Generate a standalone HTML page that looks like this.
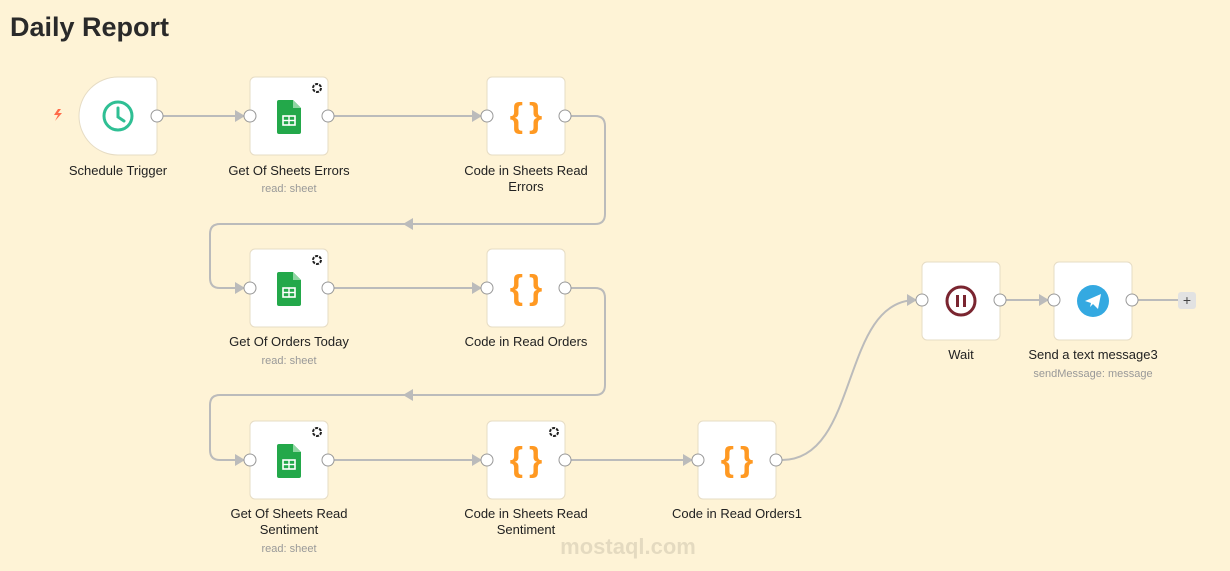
<!DOCTYPE html>
<html><head><meta charset="utf-8"><style>
html,body{margin:0;padding:0;background:#fef3d6;}
svg{display:block;font-family:"Liberation Sans",sans-serif;}
</style></head><body>
<svg width="1230" height="571" viewBox="0 0 1230 571" xmlns="http://www.w3.org/2000/svg">
<rect width="1230" height="571" fill="#fef3d6"/>
<text x="10" y="36" font-size="27" font-weight="bold" fill="#2a2a2a">Daily Report</text>
<defs>
<g id="sheet"><path d="M-12,-16 h16 l8,8 v24 a2,2 0 0 1 -2,2 h-20 a2,2 0 0 1 -2,-2 v-30 a2,2 0 0 1 2,-2z" fill="#23a84a"/><path d="M4,-16 l8,8 h-8z" fill="#8fd6a2"/><rect x="-6" y="0" width="12" height="9" fill="none" stroke="#fff" stroke-width="1.6"/><line x1="-6" y1="4.5" x2="6" y2="4.5" stroke="#fff" stroke-width="1.4"/><line x1="0" y1="0" x2="0" y2="9" stroke="#fff" stroke-width="1.4"/></g>
<g id="code"><text x="3" y="11" text-anchor="middle" font-size="34" font-weight="bold" fill="#ff9922" font-family="Liberation Sans,sans-serif" letter-spacing="6">{}</text></g>
<g id="spin"><circle r="4" fill="none" stroke="#222" stroke-width="2" stroke-dasharray="3 1.2"/></g>
</defs>
<g fill="none" stroke="#bbb" stroke-width="2">
<path d="M163,116 H243"/>
<path d="M334,116 H480"/>
<path d="M571,116 H595 Q605,116 605,126 V214 Q605,224 595,224 H220 Q210,224 210,234 V278 Q210,288 220,288 H243"/>
<path d="M334,288 H480"/>
<path d="M571,288 H595 Q605,288 605,298 V385 Q605,395 595,395 H220 Q210,395 210,405 V450 Q210,460 220,460 H243"/>
<path d="M334,460 H480"/>
<path d="M571,460 H691"/>
<path d="M782,460 C860,460 840,300 916,300"/>
<path d="M1006,300 H1048"/>
<path d="M1138,300 H1178"/>
</g>
<g fill="#bbb">
<path d="M245,116 l-10,-6 v12z"/><path d="M482,116 l-10,-6 v12z"/>
<path d="M403,224 l10,-6 v12z"/><path d="M245,288 l-10,-6 v12z"/><path d="M482,288 l-10,-6 v12z"/>
<path d="M403,395 l10,-6 v12z"/><path d="M245,460 l-10,-6 v12z"/><path d="M482,460 l-10,-6 v12z"/><path d="M693,460 l-10,-6 v12z"/>
<path d="M917,300 l-10,-6 v12z"/><path d="M1049,300 l-10,-6 v12z"/>
</g>
<rect x="1178" y="292" width="18" height="17" rx="3" fill="#e2e2e2"/>
<text x="1187" y="305" text-anchor="middle" font-size="14" fill="#444">+</text>
<path d="M58,109 l-4,6 h4 l-3,6 l7,-8 h-4 l3,-4z" fill="#ff6b4a"/>
<g stroke="#e6dcc4" stroke-width="1" fill="#fff">
<path d="M118,77 H152 a5,5 0 0 1 5,5 V150 a5,5 0 0 1 -5,5 H118 a39,39 0 0 1 -39,-39 a39,39 0 0 1 39,-39z"/>
<rect x="250" y="77" width="78" height="78" rx="5"/>
<rect x="487" y="77" width="78" height="78" rx="5"/>
<rect x="250" y="249" width="78" height="78" rx="5"/>
<rect x="487" y="249" width="78" height="78" rx="5"/>
<rect x="250" y="421" width="78" height="78" rx="5"/>
<rect x="487" y="421" width="78" height="78" rx="5"/>
<rect x="698" y="421" width="78" height="78" rx="5"/>
<rect x="922" y="262" width="78" height="78" rx="5"/>
<rect x="1054" y="262" width="78" height="78" rx="5"/>
</g>
<g fill="#fff" stroke="#999" stroke-width="1">
<circle cx="157" cy="116" r="6"/>
<circle cx="250" cy="116" r="6"/><circle cx="328" cy="116" r="6"/>
<circle cx="487" cy="116" r="6"/><circle cx="565" cy="116" r="6"/>
<circle cx="250" cy="288" r="6"/><circle cx="328" cy="288" r="6"/>
<circle cx="487" cy="288" r="6"/><circle cx="565" cy="288" r="6"/>
<circle cx="250" cy="460" r="6"/><circle cx="328" cy="460" r="6"/>
<circle cx="487" cy="460" r="6"/><circle cx="565" cy="460" r="6"/>
<circle cx="698" cy="460" r="6"/><circle cx="776" cy="460" r="6"/>
<circle cx="922" cy="300" r="6"/><circle cx="1000" cy="300" r="6"/>
<circle cx="1054" cy="300" r="6"/><circle cx="1132" cy="300" r="6"/>
</g>
<g transform="translate(118,116)"><circle r="14" fill="none" stroke="#2fbf94" stroke-width="3"/><path d="M0,-8 V1 L6,5" fill="none" stroke="#2fbf94" stroke-width="3" stroke-linecap="round"/></g>
<use href="#sheet" x="289" y="116"/><use href="#sheet" x="289" y="288"/><use href="#sheet" x="289" y="460"/>
<use href="#spin" x="317" y="88"/><use href="#spin" x="317" y="260"/><use href="#spin" x="317" y="432"/><use href="#spin" x="554" y="432"/>
<use href="#code" x="526" y="116"/><use href="#code" x="526" y="288"/><use href="#code" x="526" y="460"/><use href="#code" x="737" y="460"/>
<g transform="translate(961,301)"><circle r="14" fill="none" stroke="#7a2530" stroke-width="3"/><rect x="-5" y="-6" width="3" height="12" fill="#7a2530"/><rect x="2" y="-6" width="3" height="12" fill="#7a2530"/></g>
<g transform="translate(1093,301)"><circle r="16" fill="#34a9e1"/><path d="M-8,0 L8,-7 L5,8 L0,3 L-3,6 L-2,2z" fill="#fff"/></g>
<g font-size="13" fill="#222" text-anchor="middle">
<text x="118" y="175">Schedule Trigger</text>
<text x="289" y="175">Get Of Sheets Errors</text>
<text x="526" y="175">Code in Sheets Read</text><text x="526" y="191">Errors</text>
<text x="289" y="346">Get Of Orders Today</text>
<text x="526" y="346">Code in Read Orders</text>
<text x="289" y="518">Get Of Sheets Read</text><text x="289" y="534">Sentiment</text>
<text x="526" y="518">Code in Sheets Read</text><text x="526" y="534">Sentiment</text>
<text x="737" y="518">Code in Read Orders1</text>
<text x="961" y="359">Wait</text>
<text x="1093" y="359">Send a text message3</text>
</g>
<g font-size="11" fill="#999" text-anchor="middle">
<text x="289" y="192">read: sheet</text>
<text x="289" y="364">read: sheet</text>
<text x="289" y="552">read: sheet</text>
<text x="1093" y="377">sendMessage: message</text>
</g>
<text x="628" y="554" text-anchor="middle" font-size="22" font-weight="bold" fill="#000" fill-opacity="0.1">mostaql.com</text>
</svg>
</body></html>
